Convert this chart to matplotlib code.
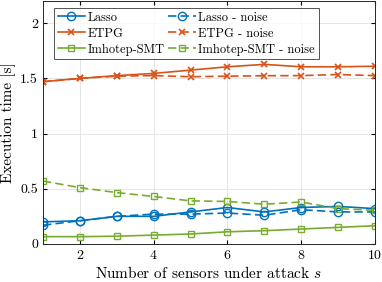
import numpy as np
from matplotlib import pyplot as plt

plt.rcParams['font.family'] = 'cmr10'
plt.rcParams['mathtext.fontset'] = 'cm'
plt.rcParams['axes.formatter.use_mathtext'] = True

s = np.arange(1, 11)

lasso = [0.20, 0.21, 0.25, 0.25, 0.29, 0.33, 0.29, 0.33, 0.34, 0.32]
lasso_noise = [0.17, 0.21, 0.25, 0.27, 0.27, 0.28, 0.26, 0.31, 0.29, 0.29]
etpg = [1.47, 1.50, 1.525, 1.545, 1.575, 1.605, 1.627, 1.605, 1.605, 1.61]
etpg_noise = [1.47, 1.50, 1.52, 1.525, 1.515, 1.52, 1.524, 1.525, 1.535, 1.525]
imhotep = [0.066, 0.066, 0.07, 0.08, 0.09, 0.11, 0.12, 0.135, 0.15, 0.165]
imhotep_noise = [0.57, 0.51, 0.465, 0.43, 0.39, 0.385, 0.36, 0.38, 0.32, 0.305]

blue = '#0072BD'
orange = '#D95319'
green = '#77AC30'
dash = (5, 2.5)

fig = plt.figure(figsize=(3.82, 2.82), dpi=100)
ax = fig.add_axes([0.1126, 0.135, 0.869, 0.861])

# сплошные линии - без шума, пунктир - с шумом
ax.plot(s, lasso, '-o', color=blue, mfc='none', ms=6, lw=1.2, label='Lasso')
ax.plot(s, lasso_noise, '--o', color=blue, mfc='none', ms=6, lw=1.2, dashes=dash, label='Lasso - noise')
ax.plot(s, etpg, '-x', color=orange, ms=5, lw=1.2, mew=1.2, label='ETPG')
ax.plot(s, etpg_noise, '--x', color=orange, ms=5, lw=1.2, mew=1.2, dashes=dash, label='ETPG - noise')
ax.plot(s, imhotep, '-s', color=green, mfc='none', ms=5, lw=1.2, label='Imhotep-SMT')
ax.plot(s, imhotep_noise, '--s', color=green, mfc='none', ms=5, lw=1.2, dashes=dash, label='Imhotep-SMT - noise')

ax.set_xlim(1, 10)
ax.set_ylim(0, 2.2)
ax.set_xticks([2, 4, 6, 8, 10])
ax.set_yticks([0, 0.5, 1, 1.5, 2])
ax.set_yticklabels(['0', '0.5', '1', '1.5', '2'])
ax.grid(True, color='#e6e6e6', lw=0.7)
ax.set_axisbelow(True)
ax.tick_params(direction='in', labelsize=10, length=3, top=True, right=True)
for sp in ax.spines.values():
    sp.set_color('#262626')
    sp.set_linewidth(0.7)

ax.set_xlabel('Number of sensors under attack $s$', fontsize=11, labelpad=2)
ax.set_ylabel('Execution time [s]', fontsize=11, labelpad=3)

handles, labels = ax.get_legend_handles_labels()
order = [0, 2, 4, 1, 3, 5]
leg = ax.legend([handles[i] for i in order], [labels[i] for i in order],
                ncol=2, loc='upper left', bbox_to_anchor=(0.025, 0.982),
                fontsize=9, frameon=True, fancybox=False, edgecolor='#262626',
                handlelength=2.2, handletextpad=0.2, columnspacing=0.3,
                labelspacing=0.3, borderpad=0.3, borderaxespad=0.2)
leg.get_frame().set_linewidth(0.7)

plt.savefig('out.png', dpi=100)
